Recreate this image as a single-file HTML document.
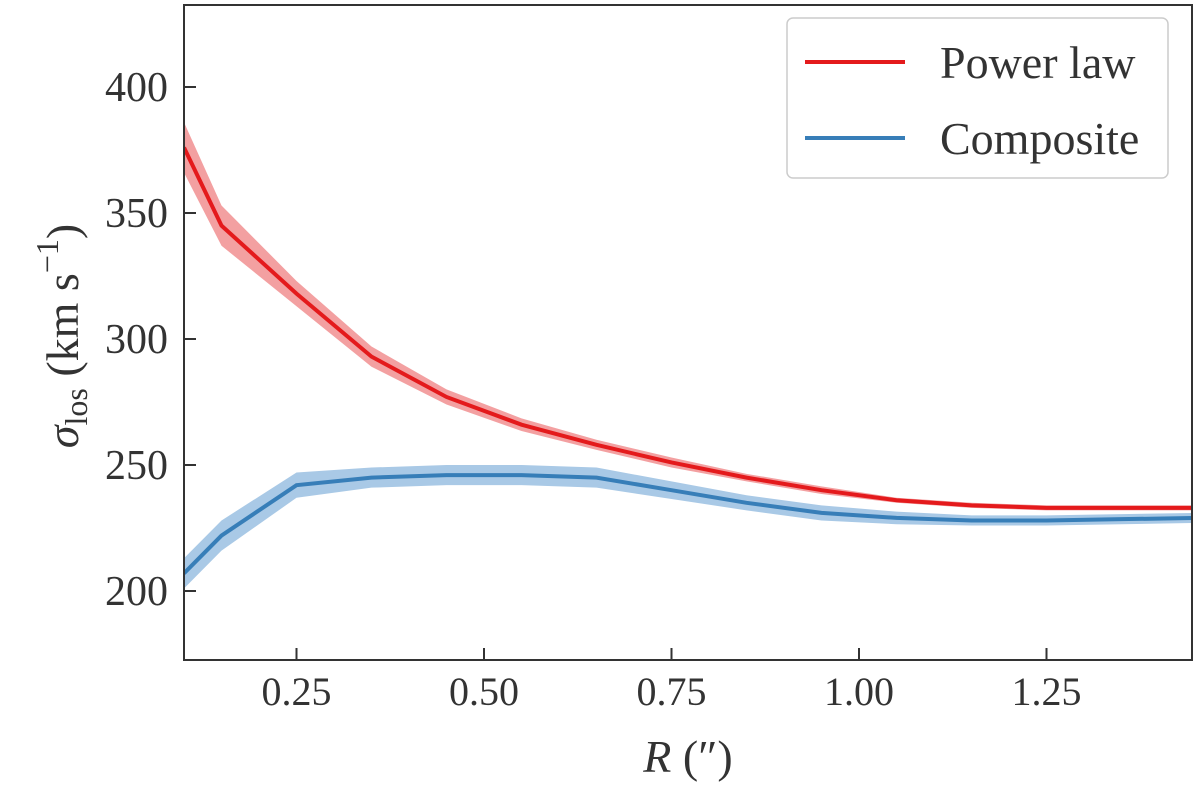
<!DOCTYPE html>
<html><head><meta charset="utf-8"><style>
body{margin:0;background:#fff}
text{font-family:"Liberation Serif",serif;fill:#333}
</style></head><body>
<svg id="chart" width="1200" height="784">
<g id="bands"></g><g id="lines"></g>
<rect x="184" y="5" width="1008" height="655" fill="none" stroke="#333" stroke-width="2"/>
<g id="ticks"></g>
<text x="688" y="772" text-anchor="middle" font-size="46"><tspan font-style="italic">R</tspan> (″)</text>
<g transform="translate(78,336) rotate(-90)">
<text x="0" y="0" text-anchor="middle" font-size="46"><tspan font-style="italic">σ</tspan><tspan font-size="32" dy="9">los</tspan><tspan dy="-9"> (km s</tspan><tspan font-size="32" dy="-20">−1</tspan><tspan dy="20">)</tspan></text>
</g>
<g>
<rect x="787" y="18" width="381" height="160" rx="6" fill="#fff" stroke="#ccc" stroke-width="1.5"/>
<line x1="805" y1="62" x2="905" y2="62" stroke="#e41a1c" stroke-width="4"/>
<text x="940" y="78" font-size="46">Power law</text>
<line x1="805" y1="138" x2="905" y2="138" stroke="#377eb8" stroke-width="4"/>
<text x="940" y="154" font-size="46">Composite</text>
</g>
</svg>
<script>
const radii=[0.1,0.15,0.25,0.35,0.45,0.55,0.65,0.75,0.85,0.95,1.05,1.15,1.25,1.35,1.45];
const powerLaw=[376,345,318,293,277,266,258,251,245,240,236,234,233,233,233];
const powerLawErr=[10,8,5,4,3,2.5,2,2,1.5,1.5,1,1,1,1,1];
const composite=[207,222,242,245,246,246,245,240,235,231,229,228,228,228.5,229];
const compositeErr=[6,6,5,4,4,4,4,3.5,3,3,2.5,2,2,2,2];
const xTicks=[0.25,0.5,0.75,1.0,1.25];
const yTicks=[200,250,300,350,400];
const X=v=>184+(v-0.1)*750, Y=v=>591-(v-200)*2.52;
const NS="http://www.w3.org/2000/svg";
function mk(t,a,p){const e=document.createElementNS(NS,t);for(const k in a)e.setAttribute(k,a[k]);p.appendChild(e);return e;}
const cp=mk('clipPath',{id:'cp'},document.getElementById('chart'));mk('rect',{x:184,y:5,width:1008,height:655},cp);
const bands=document.getElementById('bands'),lines=document.getElementById('lines');
bands.setAttribute('clip-path','url(#cp)');lines.setAttribute('clip-path','url(#cp)');
function series(vals,err,col,light,name){
  const up=radii.map((r,i)=>X(r)+','+Y(vals[i]+err[i]));
  const dn=radii.map((r,i)=>X(r)+','+Y(vals[i]-err[i])).reverse();
  const b=mk('polygon',{points:up.concat(dn).join(' '),fill:light},bands);
  
  
  const l=mk('polyline',{points:radii.map((r,i)=>X(r)+','+Y(vals[i])).join(' '),fill:'none',stroke:col,'stroke-width':4},lines);
  
  
}
series(powerLaw,powerLawErr,'#e41a1c','#f3a0a1','power-law');
series(composite,compositeErr,'#377eb8','#a9c9e6','composite');
const tk=document.getElementById('ticks');
xTicks.forEach(v=>{
  mk('line',{x1:X(v),x2:X(v),y1:660,y2:648,stroke:'#333','stroke-width':2},tk);
  const t=mk('text',{x:X(v),y:705,'text-anchor':'middle','font-size':40},tk);t.textContent=v.toFixed(2);
  
  
});
yTicks.forEach(v=>{
  mk('line',{x1:184,x2:196,y1:Y(v),y2:Y(v),stroke:'#333','stroke-width':2},tk);
  const t=mk('text',{x:168,y:Y(v)+14,'text-anchor':'end','font-size':42},tk);t.textContent=v;
  
  
});
</script>
</body></html>
